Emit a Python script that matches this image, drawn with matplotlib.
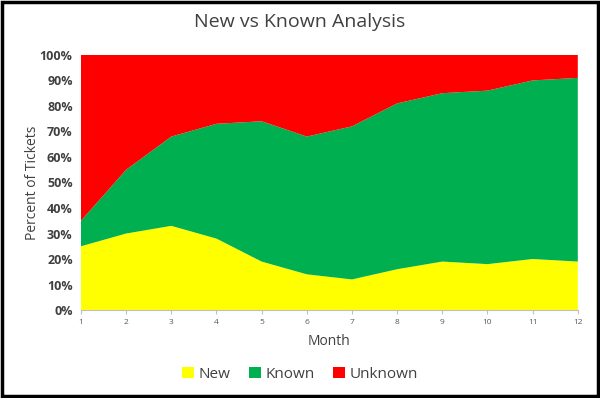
import matplotlib
matplotlib.use("Agg")
import matplotlib.pyplot as plt
from matplotlib.patches import Rectangle
from matplotlib.ticker import PercentFormatter

months = [1, 2, 3, 4, 5, 6, 7, 8, 9, 10, 11, 12]
new = [25, 30, 33, 28, 19, 14, 12, 16, 19, 18, 20, 19]
known = [10, 25, 35, 45, 55, 54, 60, 65, 66, 68, 70, 72]
unknown = [65, 45, 32, 27, 26, 32, 28, 19, 15, 14, 10, 9]
labels = ["New", "Known", "Unknown"]
colors = ["#FFFF00", "#00B050", "#FF0000"]

plt.rcParams['font.family'] = ['Open Sans', 'DejaVu Sans']

fig = plt.figure(figsize=(6, 3.98), dpi=100)
ax = fig.add_axes([0.135, 0.221, 0.828, 0.641])
ax.stackplot(months, new, known, unknown, colors=colors, labels=labels, linewidth=0)
ax.set_xlim(1, 12)
ax.set_ylim(0, 100)
ax.set_xticks(months)
ax.set_yticks(range(0, 101, 10))
ax.yaxis.set_major_formatter(PercentFormatter(decimals=0))
for s in ["top", "right", "left"]:
    ax.spines[s].set_visible(False)
ax.spines["bottom"].set_color("#BFBFBF")
ax.tick_params(axis="x", labelsize=6, colors="#595959", length=3, color="#BFBFBF")
ax.tick_params(axis="y", labelsize=9, length=0, pad=6, labelcolor="#404040")
for t in ax.get_yticklabels():
    t.set_fontweight("bold")
ax.set_xlabel("Month", fontsize=10, color="#404040", labelpad=6)
ax.set_ylabel("Percent of Tickets", fontsize=10, color="#404040", labelpad=0)
fig.text(0.5, 0.945, "New vs Known Analysis", ha="center", va="center", fontsize=14, color="#404040")
handles, labs = ax.get_legend_handles_labels()
fig.legend(handles, labs, loc="center", bbox_to_anchor=(0.5, 0.06), ncol=3, frameon=False,
           fontsize=11, handlelength=0.8, handleheight=0.8, handletextpad=0.3, columnspacing=1.2,
           labelcolor="#404040")
fig.patches.append(Rectangle((0.004, 0.006), 0.992, 0.988, transform=fig.transFigure,
                             fill=False, edgecolor="black", linewidth=2.5))
fig.savefig("out.png", dpi=100)
